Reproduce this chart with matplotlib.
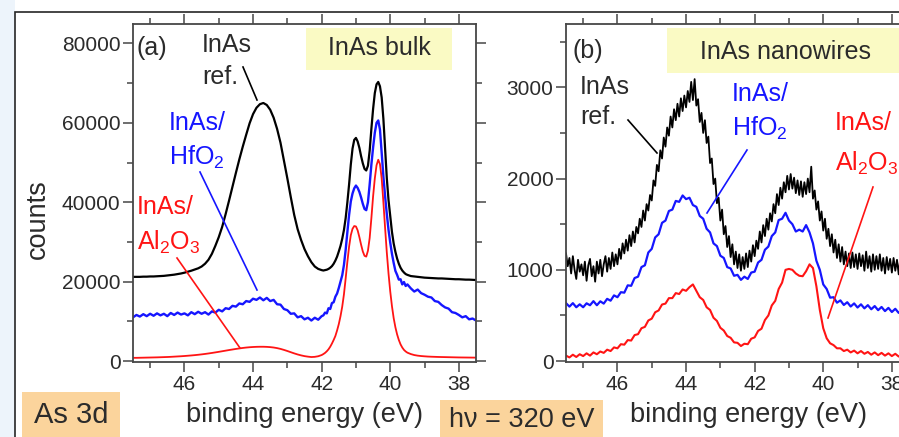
import numpy as np
import matplotlib.pyplot as plt
from matplotlib.lines import Line2D
from matplotlib.patches import Rectangle
from matplotlib.ticker import MultipleLocator

plt.rcParams['font.family'] = ['Liberation Sans', 'DejaVu Sans']
plt.rcParams['mathtext.fontset'] = 'custom'
plt.rcParams['mathtext.rm'] = 'Liberation Sans'

W, H = 899, 437
TXT = '#2b2b2b'
AXC = '#474747'
BLUE = '#1616ff'
RED = '#ff1414'

# binding energy grids (eV); the bulk scan is sampled finer across the 3d doublet
energy_bulk = np.concatenate([np.arange(475, 419, -1) / 10,
                              np.arange(4195, 3949, -5) / 100,
                              np.arange(394, 374, -1) / 10])
energy_nw = np.arange(475, 374, -1) / 10
energy_nw_ref = np.arange(950, 749, -1) / 20

# (a) InAs bulk, counts
bulk_ref = [
    21200, 21200, 21200, 21250, 21250, 21300, 21300, 21350, 21400, 21450,
    21550, 21650, 21750, 21900, 22050, 22250, 22500, 22750, 23050, 23350,
    23800, 24500, 25500, 27000, 29000, 31200, 33800, 37000, 40400, 43900,
    47400, 50800, 54000, 57000, 59900, 62200, 63800, 64700, 65000, 64500,
    63300, 61300, 58500, 55000, 50500, 46000, 41300, 36800, 33200, 30500,
    28200, 26400, 24900, 23800, 23200, 22900,
    22800, 22900, 23000, 23200, 23500, 23900, 24500, 25300, 26300, 27600,
    29000, 30800, 33000, 36000, 40000, 44500, 49500, 53500, 55700, 56200,
    55300, 53700, 51600, 49800, 48400, 48000, 49200, 53000, 58500, 63500,
    67500, 69700, 70300, 69200, 66400, 61000, 53500, 46000, 40500, 36500,
    32500, 29600, 27500, 25800, 24500, 23500, 22800, 22300, 21900, 21700,
    21400, 21300, 21200, 21100, 21000, 20950, 20900, 20850, 20800, 20800,
    20750, 20700, 20650, 20600, 20600, 20550, 20500, 20500, 20450, 20400,
]
bulk_hfo2 = [
    11000, 11600, 11200, 11800, 11300, 11900, 11400, 12000, 11500, 11900,
    11300, 12100, 11600, 12200, 11700, 12000, 11500, 12300, 11800, 12400,
    11900, 12300, 11700, 12500, 12200, 12900, 12500, 13300, 13100, 13900,
    13700, 14500, 14300, 15100, 14900, 15700, 15400, 16000, 15300, 15900,
    15100, 15400, 14300, 14200, 13100, 12800, 11900, 12000, 11000, 11300,
    10500, 10900, 10200, 10900, 10400, 11300,
    11500, 12200, 12000, 13300, 13100, 14600, 14800, 16200, 17000, 18400,
    20000, 21600, 24200, 28000, 32500, 36800, 40200, 42200, 43500, 44200,
    43600, 42600, 41200, 39600, 38300, 38000, 40000, 44500, 49500, 53800,
    57500, 60000, 60600, 58300, 52500, 46500, 41500, 37000, 33000, 29800,
    27000, 24700, 22700, 21700, 20500, 20600, 19300, 19900, 18900, 19300,
    18300, 17500, 18000, 17100, 16700, 16200, 16000, 15100, 14900, 14100,
    13500, 13200, 12300, 12100, 11600, 11000, 11300, 10500, 10700, 10200,
]
bulk_al2o3 = [
    800, 800, 820, 840, 860, 880, 900, 920, 950, 980,
    1010, 1050, 1100, 1150, 1200, 1260, 1330, 1400, 1480, 1570,
    1670, 1780, 1900, 2030, 2170, 2310, 2460, 2610, 2760, 2900,
    3040, 3170, 3290, 3390, 3470, 3530, 3570, 3590, 3590, 3560,
    3500, 3400, 3250, 3050, 2800, 2520, 2220, 1920, 1650, 1420,
    1230, 1100, 1000, 1050, 1200, 1500,
    1750, 2050, 2450, 2950, 3600, 4400, 5300, 6300, 7700, 9300,
    11300, 13700, 16800, 20800, 25000, 28800, 31700, 33300, 34000, 33900,
    32900, 31200, 29300, 27600, 26500, 26300, 27800, 31000, 36000, 41500,
    46000, 49300, 50700, 49600, 46000, 40000, 33500, 27300, 22000, 17500,
    13800, 10800, 8500, 6700, 5300, 4200, 3400, 2800, 2400, 2100,
    1750, 1500, 1350, 1250, 1180, 1120, 1080, 1050, 1020, 1000,
    980, 960, 940, 920, 900, 890, 880, 870, 860, 850,
]

# (b) InAs nanowires, counts (reference scan recorded at half the step)
nw_ref = [
    1180, 1040, 1130, 960, 1150, 1000, 900, 1110, 980, 1060,
    940, 1090, 880, 1050, 1120, 930, 1040, 870, 1090, 960,
    1110, 930, 1060, 1150, 980, 1130, 1010, 1190, 1040, 1170,
    1060, 1230, 1120, 1290, 1180, 1330, 1210, 1380, 1260, 1420,
    1300, 1470, 1400, 1560, 1470, 1650, 1540, 1720, 1650, 1820,
    1760, 1980, 1920, 2150, 2080, 2310, 2220, 2450, 2350, 2560,
    2470, 2680, 2560, 2760, 2640, 2820, 2680, 2880, 2740, 2910,
    2780, 2960, 2840, 3060, 2860, 3090, 2800, 2870, 2620, 2720,
    2500, 2640, 2390, 2460, 2170, 2220, 1940, 2000, 1730, 1790,
    1540, 1660, 1390, 1480, 1250, 1370, 1140, 1280, 1060, 1200,
    1020, 1170, 990, 1140, 1010, 1180, 1030, 1210, 1090, 1270,
    1150, 1320, 1230, 1420, 1300, 1490, 1370, 1560, 1440, 1620,
    1530, 1720, 1620, 1830, 1710, 1900, 1780, 1960, 1850, 2030,
    1880, 2050, 1890, 2010, 1840, 1980, 1820, 1970, 1800, 1960,
    1830, 2000, 1850, 2130, 1780, 1870, 1660, 1750, 1540, 1640,
    1430, 1560, 1340, 1450, 1260, 1390, 1190, 1330, 1130, 1280,
    1090, 1250, 1060, 1200, 1040, 1180, 1020, 1190, 1030, 1170,
    1010, 1180, 1040, 1160, 990, 1200, 1020, 1150, 980, 1170,
    1000, 1150, 1010, 1170, 990, 1130, 960, 1140, 1000, 1120,
    970, 1130, 990, 1110, 950, 1140, 980, 1100, 960, 1120,
    1060,
]
nw_hfo2 = [
    635, 597, 635, 590, 622, 590, 633, 612, 657, 612,
    655, 630, 682, 662, 720, 700, 755, 750, 830, 825,
    910, 925, 1030, 1050, 1190, 1230, 1355, 1390, 1515, 1540,
    1645, 1660, 1755, 1745, 1815, 1775, 1790, 1710, 1690, 1590,
    1560, 1450, 1410, 1290, 1260, 1155, 1130, 1030, 1015, 935,
    945, 890, 925, 900, 970, 980, 1080, 1110, 1220, 1255,
    1370, 1410, 1545, 1560, 1625, 1540, 1500, 1420, 1440, 1420,
    1490, 1410, 1290, 1100, 1000, 840, 790, 695, 700, 640,
    665, 615, 645, 598, 632, 587, 622, 578, 613, 568,
    603, 558, 593, 548, 583, 538, 573, 528, 564, 520,
    556,
]
nw_al2o3 = [
    60, 40, 70, 45, 75, 55, 85, 60, 95, 75,
    105, 90, 125, 110, 150, 140, 185, 180, 230, 225,
    285, 295, 360, 375, 445, 465, 535, 555, 620, 630,
    690, 690, 745, 735, 785, 770, 810, 840, 770, 700,
    670, 590, 560, 475, 440, 365, 335, 275, 255, 205,
    200, 165, 190, 185, 245, 260, 330, 355, 450, 500,
    610, 660, 790, 860, 1000, 1010, 1000, 960, 935, 930,
    985, 1060, 1020, 820, 560, 360, 250, 195, 175, 140,
    140, 110, 125, 95, 115, 85, 110, 80, 100, 70,
    95, 65, 90, 60, 85, 55, 80, 50, 75, 45,
    70,
]


def fx(x):
    return x / W


def fy(y):
    return 1 - y / H


def label(x, y, s, color=TXT, size=18, **kw):
    fig.text(fx(x), fy(y), s, color=color, fontsize=size, va='center', **kw)


def leader(x1, y1, x2, y2, color):
    fig.add_artist(Line2D([fx(x1), fx(x2)], [fy(y1), fy(y2)],
                          transform=fig.transFigure, color=color, lw=1.2))


def box(x1, y1, x2, y2, color):
    fig.add_artist(Rectangle((fx(x1), fy(y2)), fx(x2) - fx(x1), fy(y1) - fy(y2),
                             transform=fig.transFigure, facecolor=color,
                             edgecolor='none', zorder=1))


def style_axes(ax, ylim, major, minor):
    ax.set_xlim(47.5, 37.5)
    ax.set_ylim(*ylim)
    ax.xaxis.set_major_locator(MultipleLocator(2))
    ax.xaxis.set_minor_locator(MultipleLocator(1))
    ax.yaxis.set_major_locator(MultipleLocator(major))
    ax.yaxis.set_minor_locator(MultipleLocator(minor))
    ax.tick_params(which='both', direction='out', top=True, right=True,
                   color=AXC, labelcolor=TXT, labelsize=15, width=1.1)
    ax.tick_params(which='major', length=7, pad=2)
    ax.tick_params(which='minor', length=4)
    for s in ax.spines.values():
        s.set_color(AXC)
        s.set_linewidth(1.3)


fig = plt.figure(figsize=(W / 100, H / 100), dpi=100)

# light strip on the left and the outer frame
fig.add_artist(Rectangle((0, 0), fx(15), 1, transform=fig.transFigure,
                         facecolor='#edf4fb', edgecolor='none', zorder=0))
fig.add_artist(Rectangle((fx(15), fy(H + 20)), fx(W + 20), fy(12) - fy(H + 20),
                         transform=fig.transFigure, facecolor='none',
                         edgecolor='#262626', lw=1.2, zorder=1))

ax1 = fig.add_axes([fx(133), fy(362), fx(476) - fx(133), fy(24) - fy(362)])
ax1.plot(energy_bulk, bulk_ref, color='black', lw=1.6)
ax1.plot(energy_bulk, bulk_hfo2, color=BLUE, lw=1.7)
ax1.plot(energy_bulk, bulk_al2o3, color=RED, lw=1.3)
style_axes(ax1, (-250, 84900), 20000, 10000)

ax2 = fig.add_axes([fx(566), fy(362), fx(909) - fx(566), fy(24) - fy(362)])
ax2.plot(energy_nw_ref, nw_ref, color='black', lw=1.3)
ax2.plot(energy_nw, nw_hfo2, color=BLUE, lw=1.6)
ax2.plot(energy_nw, nw_al2o3, color=RED, lw=1.5)
style_axes(ax2, (-10, 3694), 1000, 500)

# panel (a) labels
label(137, 48, '(a)', size=18)
label(202, 45, 'InAs')
label(202, 77, 'ref.')
leader(243, 67, 257, 100, 'black')
label(169, 123, 'InAs/', color=BLUE)
label(169, 157, r'HfO$_\mathregular{2}$', color=BLUE)
leader(200, 172, 257, 290, BLUE)
label(137, 207, 'InAs/', color=RED)
label(137, 242, r'Al$_\mathregular{2}$O$_\mathregular{3}$', color=RED)
leader(177, 258, 240, 348, RED)
box(306, 28, 452, 70, '#fafac4')
label(379, 48, 'InAs bulk', ha='center')

# panel (b) labels
label(572, 51, '(b)', size=18)
label(580, 87, 'InAs')
label(580, 117, 'ref.')
leader(628, 120, 657, 153, 'black')
label(732, 94, 'InAs/', color=BLUE)
label(732, 128, r'HfO$_\mathregular{2}$', color=BLUE)
leader(747, 150, 707, 213, BLUE)
label(835, 123, 'InAs/', color=RED)
label(835, 163, r'Al$_\mathregular{2}$O$_\mathregular{3}$', color=RED)
leader(873, 187, 828, 318, RED)
box(667, 28, 910, 73, '#fafac4')
label(786, 52, 'InAs nanowires', ha='center')

# axis titles and the footer boxes
label(38, 219, 'counts', size=19.5, rotation=90, ha='center')
label(304, 415, 'binding energy (eV)', size=19.5, ha='center')
label(749, 415, 'binding energy (eV)', size=19.5, ha='center')
box(22, 392, 120, 440, '#fbd49c')
label(71, 415, 'As 3d', size=21, ha='center')
box(440, 400, 603, 440, '#fbd49c')
label(522, 420, 'h\u03bd = 320 eV', size=19.5, ha='center')

fig.savefig('out.png', dpi=100)
